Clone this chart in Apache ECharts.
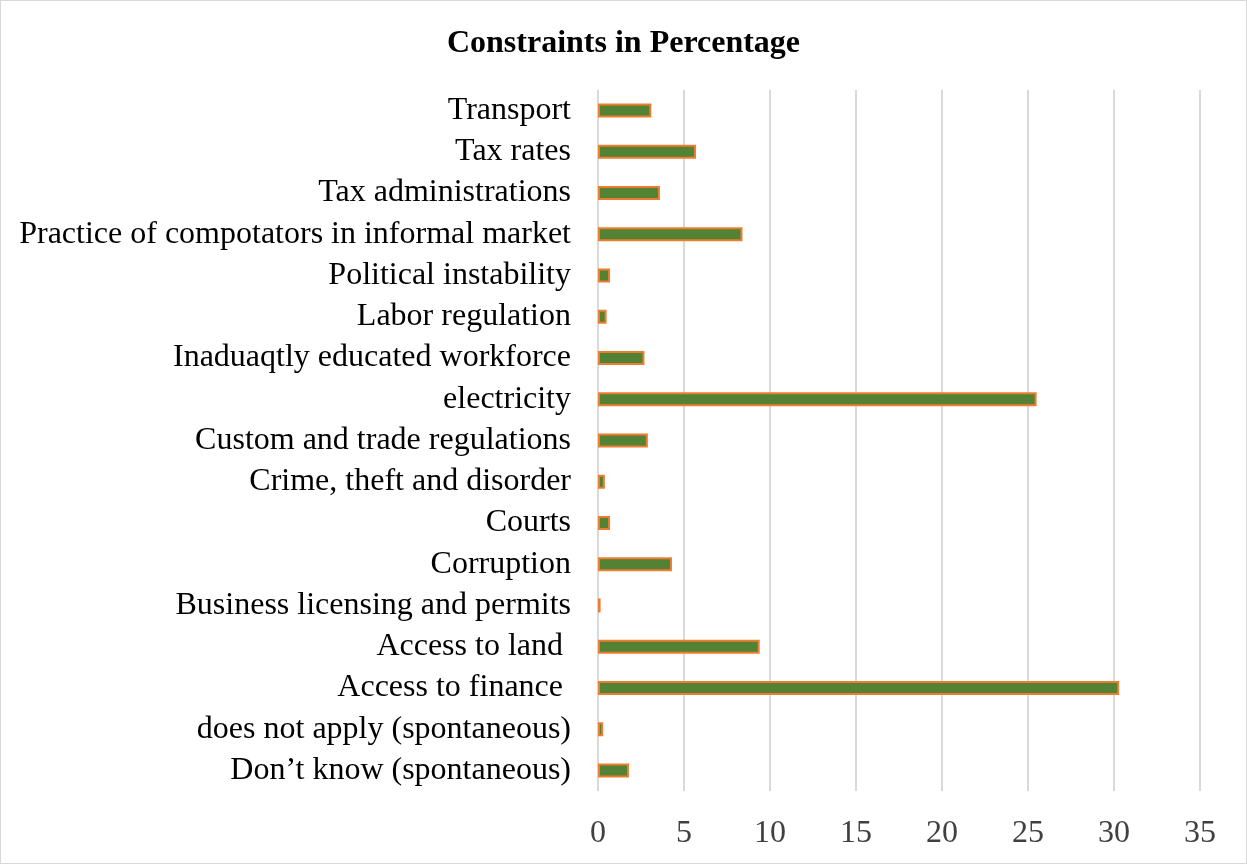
<!DOCTYPE html>
<html>
<head>
<meta charset="utf-8">
<script src="https://cdn.jsdelivr.net/npm/echarts@6/dist/echarts.min.js"></script>
<style>
	html, body { margin: 0; padding: 0; background: #fff; }
	#chart { width: 1247px; height: 864px; box-sizing: border-box; border: 1px solid #d9d9d9; }
</style>
</head>
<body>
<div id="chart"></div>
<script>
// categories, top to bottom as in the picture
var categories = [
	'Transport',
	'Tax rates',
	'Tax administrations',
	'Practice of compotators in informal market',
	'Political instability',
	'Labor regulation',
	'Inaduaqtly educated workforce',
	'electricity',
	'Custom and trade regulations',
	'Crime, theft and disorder',
	'Courts',
	'Corruption',
	'Business licensing and permits',
	'Access to land ',
	'Access to finance ',
	'does not apply (spontaneous)',
	'Don\u2019t know (spontaneous)'
];

var percentValues = [3.1, 5.7, 3.6, 8.4, 0.7, 0.5, 2.7, 25.5, 2.9, 0.4, 0.7, 4.3, 0.15, 9.4, 30.3, 0.3, 1.8];

var tickMin = 0;
var tickMax = 35;
var tickStep = 5;

var serif = '"Liberation Serif", "Times New Roman", serif';

var chart = echarts.init(document.getElementById('chart'));

var option = {
	animation: false,
	title: {
		text: 'Constraints in Percentage',
		left: 'center',
		top: 22,
		textStyle: {
			fontFamily: serif,
			fontWeight: 'bold',
			fontSize: 32,
			color: '#000'
		}
	},
	grid: {
		left: 597,
		right: 46,
		top: 89,
		bottom: 72
	},
	xAxis: {
		type: 'value',
		min: tickMin,
		max: tickMax,
		interval: tickStep,
		axisLine: { show: false },
		axisTick: { show: false },
		splitLine: {
			show: true,
			lineStyle: { color: '#d9d9d9', width: 2 }
		},
		axisLabel: {
			fontFamily: serif,
			fontSize: 32,
			color: '#404040',
			margin: 27
		}
	},
	yAxis: {
		type: 'category',
		inverse: true,
		data: categories,
		axisLine: { show: false },
		axisTick: { show: false },
		axisLabel: {
			interval: 0,
			fontFamily: serif,
			fontSize: 32,
			color: '#000',
			margin: 27
		}
	},
	series: [
		{
			name: 'Percentage',
			type: 'bar',
			data: percentValues,
			barWidth: 14,
			itemStyle: {
				color: '#548235',
				borderColor: '#ED7D31',
				borderWidth: 2
			}
		}
	]
};

chart.setOption(option);
</script>
</body>
</html>
